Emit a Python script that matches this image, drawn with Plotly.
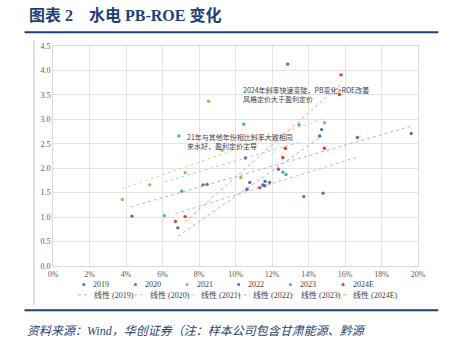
import plotly.graph_objects as go

# ---- data -------------------------------------------------------------
years = ["2019", "2020", "2021", "2022", "2023", "2024E"]

roe_2019 = [6.84, 10.63, 11.50, 11.60, 11.62, 14.61, 14.72]
pb_2019 = [0.78, 1.57, 1.66, 1.64, 1.73, 2.66, 2.79]

roe_2020 = [6.71, 8.44, 11.33, 12.35, 13.74, 14.80, 16.68]
pb_2020 = [0.91, 1.67, 1.60, 1.98, 1.42, 1.49, 2.63]

roe_2021 = [3.80, 5.30, 7.24, 8.53, 9.27, 10.29, 14.88]
pb_2021 = [1.36, 1.66, 1.91, 3.37, 2.37, 1.81, 2.93]

roe_2022 = [4.32, 8.22, 10.54, 10.78, 11.87, 19.63]
pb_2022 = [1.02, 1.66, 2.21, 1.71, 1.71, 2.71]

roe_2023 = [6.10, 6.89, 7.05, 10.45, 12.60, 12.77, 13.48]
pb_2023 = [1.03, 2.66, 1.53, 2.90, 1.92, 1.87, 2.89]

roe_2024 = [7.24, 12.59, 12.73, 12.86, 14.87, 15.69, 15.78]
pb_2024 = [1.01, 2.22, 2.41, 4.13, 2.41, 3.51, 3.91]

# linear trend lines (ROE start/end, PB start/end) per year
trend_roe_start = [6.86, 6.71, 3.80, 4.26, 6.10, 7.22]
trend_roe_end = [14.72, 16.77, 14.98, 19.63, 13.48, 15.78]
trend_pb_start = [0.61, 1.07, 1.58, 1.21, 1.72, 0.90]
trend_pb_end = [2.65, 2.24, 3.03, 2.86, 2.53, 3.72]

x_ticks = [0, 2, 4, 6, 8, 10, 12, 14, 16, 18, 20]
y_ticks = [0.0, 0.5, 1.0, 1.5, 2.0, 2.5, 3.0, 3.5, 4.0, 4.5]

roe_all = [roe_2019, roe_2020, roe_2021, roe_2022, roe_2023, roe_2024]
pb_all = [pb_2019, pb_2020, pb_2021, pb_2022, pb_2023, pb_2024]

# ---- styling ----------------------------------------------------------
marker_colors = ["#4472C4", "#C0504D", "#9BBB59", "#8064A2", "#4BACC6", "#F2361B"]
trend_colors = ["#9DB5E0", "#EBA9A7", "#C9DCA3", "#BAABCF", "#9DD3E0", "#F7A35C"]
navy = "#1F3F77"
serif = "Liberation Serif, Noto Sans CJK SC"
cjk = "Noto Sans CJK SC"

W, H = 450, 344
L, R, T, B = 52.5, 32.3, 45.7, 78.3
PW, PH = W - L - R, H - T - B


def px(x):
    return (x - L) / PW


def py(y):
    return (H - B - y) / PH


fig = go.Figure()

for i, yr in enumerate(years):
    fig.add_trace(go.Scatter(
        x=[trend_roe_start[i], trend_roe_end[i]],
        y=[trend_pb_start[i], trend_pb_end[i]],
        mode="lines", line=dict(color=trend_colors[i], width=1, dash="dot"),
        name="线性 (" + yr + ")", showlegend=False, hoverinfo="skip"))

for i, yr in enumerate(years):
    fig.add_trace(go.Scatter(
        x=roe_all[i], y=pb_all[i], mode="markers",
        marker=dict(color=marker_colors[i], size=3.4),
        name=yr, showlegend=False))

shapes = []
annotations = []

# header / footer rules and frame
shapes.append(dict(type="line", xref="paper", yref="paper", x0=px(24), x1=px(438),
                   y0=py(32), y1=py(32), line=dict(color=navy, width=2)))
shapes.append(dict(type="line", xref="paper", yref="paper", x0=px(24), x1=px(438),
                   y0=py(310), y1=py(310), line=dict(color=navy, width=2)))
shapes.append(dict(type="line", xref="paper", yref="paper", x0=px(33.5), x1=px(33.5),
                   y0=py(40), y1=py(305), line=dict(color="#BFBFBF", width=1)))

annotations.append(dict(xref="paper", yref="paper", x=px(26), y=py(15),
                        xanchor="left", yanchor="middle", showarrow=False,
                        text="<b>图表&nbsp;2&nbsp;&nbsp;&nbsp;&nbsp;水电&nbsp;PB-ROE&nbsp;变化</b>",
                        font=dict(family="Liberation Serif, Noto Sans CJK SC", size=16, color=navy)))
annotations.append(dict(xref="paper", yref="paper", x=px(24), y=py(331),
                        xanchor="left", yanchor="middle", showarrow=False,
                        text="<i>资料来源：Wind，华创证券（注：样本公司包含甘肃能源、黔源</i>",
                        font=dict(family="Liberation Serif, Noto Sans CJK SC", size=12, color=navy)))

# callouts
annotations.append(dict(xref="paper", yref="paper", x=px(241), y=py(94.5),
                        xanchor="left", yanchor="middle", showarrow=False, align="left",
                        text="2024年斜率快速变陡，PB变化>ROE改善<br>风格定价大于盈利定价",
                        font=dict(family=cjk, size=7, color="#404040")))
annotations.append(dict(xref="paper", yref="paper", x=px(185), y=py(141),
                        xanchor="left", yanchor="middle", showarrow=False, align="left",
                        text="21年与其他年份相比斜率大致相同<br>来水好，盈利定价主导",
                        font=dict(family=cjk, size=7, color="#404040")))

# legend
mark_x = [83.3, 135, 186.7, 238.3, 290, 342.7]
line_x = [77.7, 133.3, 185, 237, 285, 337]
for i, yr in enumerate(years):
    cx, cy = mark_x[i], 284.3
    shapes.append(dict(type="circle", xref="paper", yref="paper",
                       x0=px(cx - 1.5), x1=px(cx + 1.5), y0=py(cy + 1.5), y1=py(cy - 1.5),
                       fillcolor=marker_colors[i], line=dict(width=0)))
    annotations.append(dict(xref="paper", yref="paper", x=px(cx + 7.5), y=py(cy),
                            xanchor="left", yanchor="middle", showarrow=False, text=yr,
                            font=dict(family=serif, size=8, color="#404040")))
    lx, ly = line_x[i], 294.5
    shapes.append(dict(type="line", xref="paper", yref="paper",
                       x0=px(lx), x1=px(lx + 12.5), y0=py(ly), y1=py(ly),
                       line=dict(color=trend_colors[i], width=1, dash="dot")))
    annotations.append(dict(xref="paper", yref="paper", x=px(lx + 14), y=py(ly),
                            xanchor="left", yanchor="middle", showarrow=False,
                            text="线性 (" + yr + ")",
                            font=dict(family=serif, size=8, color="#404040")))

fig.update_layout(
    width=W, height=H,
    margin=dict(l=L, r=R, t=T, b=B, pad=0),
    paper_bgcolor="white", plot_bgcolor="white",
    shapes=shapes, annotations=annotations,
    showlegend=False,
    xaxis=dict(range=[0, 20], tickvals=x_ticks, ticktext=[f"{v}%" for v in x_ticks],
               showgrid=True, gridcolor="#E3E3E3", gridwidth=1, zeroline=False,
               showline=True, linecolor="#D9D9D9", mirror=True, ticks="",
               tickfont=dict(family=serif, size=8, color="#595959")),
    yaxis=dict(range=[0, 4.5], tickvals=y_ticks, ticktext=[f"{v:.1f}" for v in y_ticks],
               showgrid=True, gridcolor="#E3E3E3", gridwidth=1, zeroline=False,
               showline=True, linecolor="#D9D9D9", mirror=True, ticks="",
               tickfont=dict(family=serif, size=8, color="#595959")),
)

fig.write_html("out.html")
